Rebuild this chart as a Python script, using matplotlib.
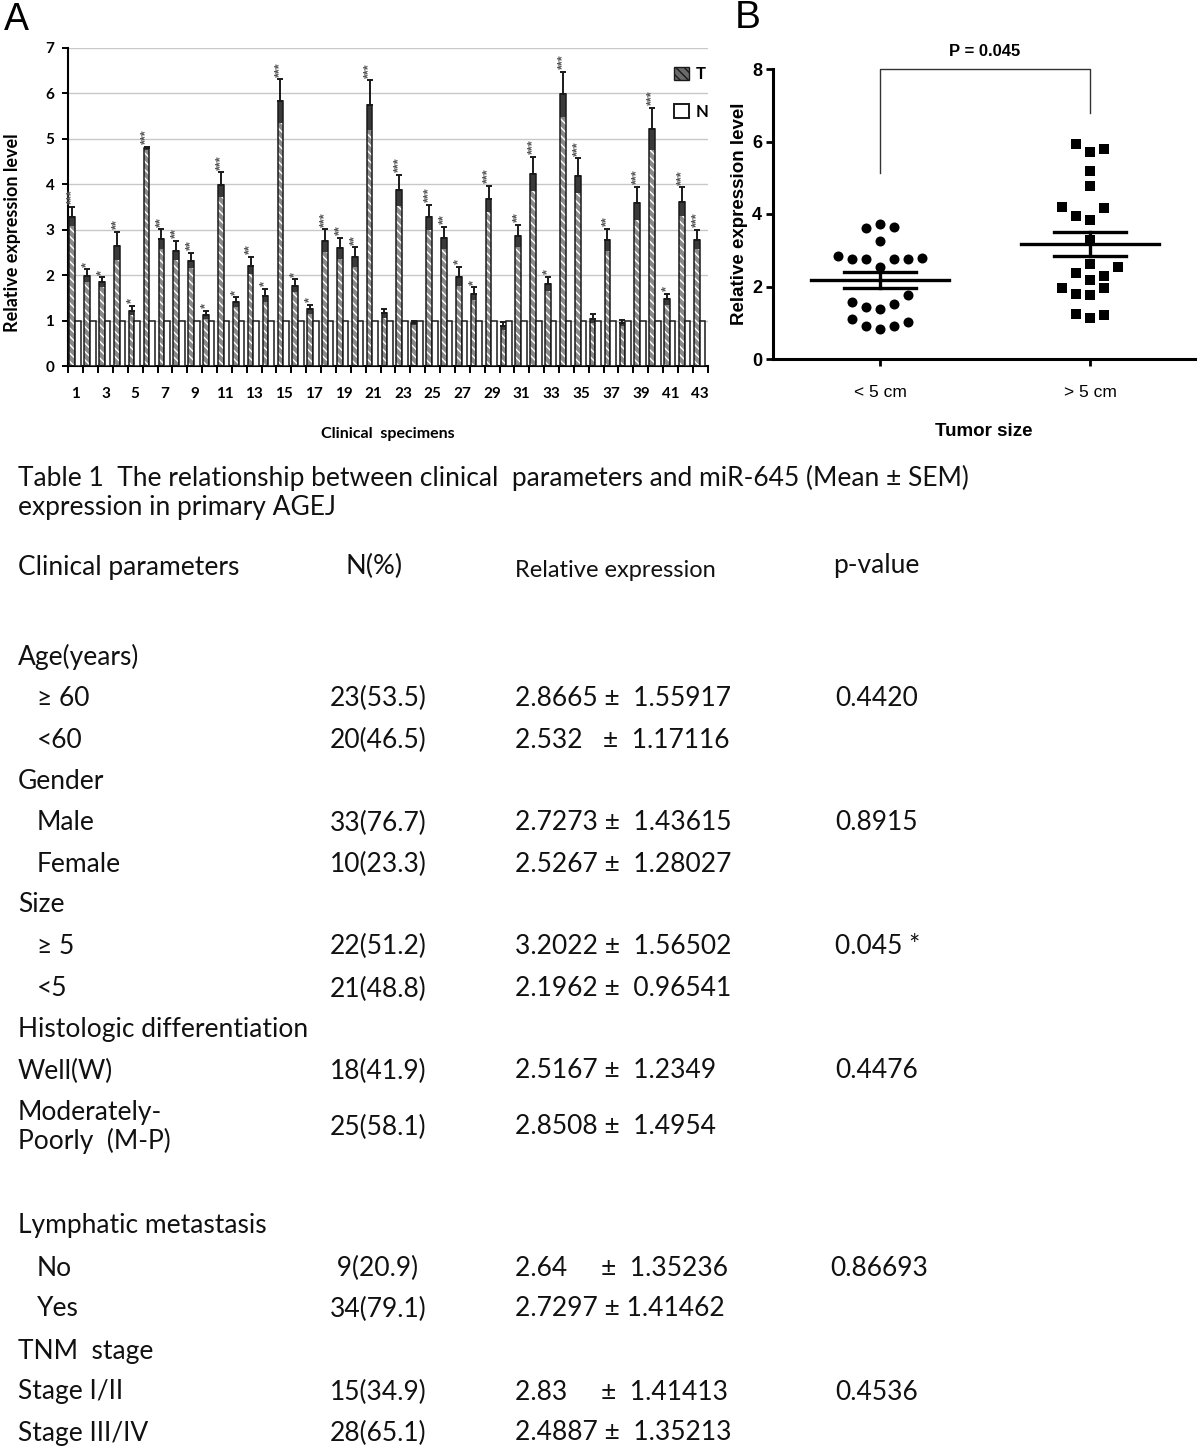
import matplotlib
matplotlib.use("Agg")
import matplotlib.pyplot as plt
import numpy as np
from matplotlib.patches import Patch

# ---------------- data ----------------
specimens = list(range(1, 44))
tumor = [3.29, 1.99, 1.84, 2.65, 1.22, 4.79, 2.79, 2.54, 2.32, 1.12,
         3.99, 1.40, 2.21, 1.55, 5.83, 1.77, 1.25, 2.76, 2.59, 2.40,
         5.74, 1.16, 3.87, 0.95, 3.27, 2.82, 1.97, 1.59, 3.68, 0.88,
         2.87, 4.23, 1.80, 5.98, 4.19, 1.04, 2.78, 0.94, 3.58, 5.22,
         1.47, 3.62, 2.78]
tumor_err = [0.21, 0.14, 0.11, 0.31, 0.10, 0.03, 0.22, 0.21, 0.17, 0.09,
             0.27, 0.11, 0.19, 0.14, 0.48, 0.14, 0.10, 0.25, 0.23, 0.21,
             0.55, 0.10, 0.34, 0.05, 0.28, 0.25, 0.21, 0.14, 0.29, 0.09,
             0.24, 0.37, 0.16, 0.49, 0.38, 0.10, 0.24, 0.07, 0.36, 0.47,
             0.12, 0.31, 0.21]
normal = [1.0] * 43
signif = ["***", "*", "*", "**", "*", "***", "**", "**", "**", "*",
          "***", "*", "**", "*", "***", "*", "*", "***", "**", "**",
          "***", "", "***", "", "***", "**", "*", "*", "***", "",
          "**", "***", "*", "***", "***", "", "**", "", "***", "***",
          "*", "***", "***"]

size_groups = ["< 5 cm", "> 5 cm"]
small_vals = [3.62, 3.73, 3.63, 3.25, 2.85, 2.77, 2.77, 2.77, 2.77, 2.80,
              2.53, 1.76, 1.56, 1.43, 1.38, 1.52, 1.10, 0.92, 0.84, 0.92, 1.01]
small_cols = [-1, 0, 1, 0, -3, -2, -1, 1, 2, 3,
              0, 2, -2, -1, 0, 1, -2, -1, 0, 1, 2]
large_vals = [5.93, 5.71, 5.80, 5.20, 4.76, 4.19, 3.95, 3.84, 4.16, 3.29,
              2.63, 2.55, 2.37, 2.30, 2.17, 1.97, 1.80, 1.76, 1.95,
              1.23, 1.12, 1.21]
large_cols = [-1, 0, 1, 0, 0, -2, -1, 0, 1, 0,
              0, 2, -1, 1, 0, -2, -1, 0, 1,
              -1, 0, 1]
p_text = "P = 0.045"

table_title = ["Table 1  The relationship between clinical  parameters and miR-645 (Mean \u00b1 SEM)",
               "expression in primary AGEJ"]
table_header = ["Clinical parameters", "N(%)", "Relative expression", "p-value"]
row_labels = ["Age(years)", "\u2265 60", "<60", "Gender", "Male", "Female", "Size",
              "\u2265 5", "<5", "Histologic differentiation", "Well(W)",
              "Moderately-\nPoorly  (M-P)", "Lymphatic metastasis", "No", "Yes",
              "TNM  stage", "Stage I/II", "Stage III/IV"]
row_n = ["", "23(53.5)", "20(46.5)", "", "33(76.7)", "10(23.3)", "",
         "22(51.2)", "21(48.8)", "", "18(41.9)", "25(58.1)", "",
         " 9(20.9)", "34(79.1)", "", "15(34.9)", "28(65.1)"]
row_expr = ["", "2.8665 \u00b1  1.55917", "2.532   \u00b1  1.17116", "",
            "2.7273 \u00b1  1.43615", "2.5267 \u00b1  1.28027", "",
            "3.2022 \u00b1  1.56502", "2.1962 \u00b1  0.96541", "",
            "2.5167 \u00b1  1.2349", "2.8508 \u00b1  1.4954", "",
            "2.64     \u00b1  1.35236", "2.7297 \u00b1 1.41462", "",
            "2.83     \u00b1  1.41413", "2.4887 \u00b1  1.35213"]
row_p = ["", "0.4420", "", "", "0.8915", "", "", "0.045 *", "", "",
         "0.4476", "", "", "0.86693", "", "", "0.4536", ""]
row_indent = [False, True, True, False, True, True, False, True, True, False,
              False, False, False, True, True, False, False, False]
row_y = [657, 698, 740, 781, 823, 864, 905, 946, 989, 1030, 1071, 1127,
         1226, 1268, 1309, 1351, 1392, 1433]

# ---------------- figure ----------------
W, H = 1200, 1448
fig = plt.figure(figsize=(W / 100, H / 100), dpi=100)
fig.patch.set_facecolor("white")

def px(x0, y0, x1, y1):
    return [x0 / W, 1 - y1 / H, (x1 - x0) / W, (y1 - y0) / H]

A_FONT = ["Lato", "DejaVu Sans"]
B_FONT = ["Liberation Sans", "DejaVu Sans"]

# ---------------- Panel A ----------------
axA = fig.add_axes(px(68.3, 48, 707.7, 366))
x = np.array(specimens, dtype=float)
wT, wN = 0.38, 0.38
xT = x - 0.24
xN = x + 0.14
axA.set_axisbelow(True)
axA.yaxis.grid(True, color="#c8c8c8", lw=1.0)
axA.bar(xT, tumor, width=wT, color="#8a8a8a", edgecolor="white",
        hatch="\\\\\\\\", lw=0, zorder=2)
axA.bar(xT, tumor_err, bottom=np.array(tumor) - np.array(tumor_err), width=wT,
        color="#3a3a3a", edgecolor="#3a3a3a", lw=0, zorder=3)
axA.bar(xT, tumor, width=wT, fill=False, edgecolor="#1a1a1a", lw=1.1, zorder=4)
axA.bar(xN, normal, width=wN, color="white", edgecolor="#1a1a1a", lw=1.1, zorder=4)
axA.errorbar(xT, tumor, yerr=[np.zeros(43), tumor_err], fmt="none",
             ecolor="#1a1a1a", elinewidth=1.4, capsize=2.2, capthick=1.4, zorder=5)
for xi, t, e, s in zip(xT, tumor, tumor_err, signif):
    if s:
        axA.text(xi, t + e + 0.06, s, rotation=90, ha="center", va="bottom",
                 fontsize=9, color="#555555", family=B_FONT,
                 fontweight="bold")
axA.set_xlim(0.5, 43.5)
axA.set_ylim(0, 7)
axA.set_yticks(range(0, 8))
axA.set_xticks(specimens[::2])
axA.set_xticklabels([str(s) for s in specimens[::2]])
axA.set_xticks(np.arange(0.5, 44, 1.0), minor=True)
axA.tick_params(axis="x", which="major", length=0, pad=15)
axA.tick_params(axis="x", which="minor", length=5, width=1.4, direction="out")
axA.tick_params(axis="y", length=4, width=1.4, direction="out", pad=6)
for lab in axA.get_xticklabels() + axA.get_yticklabels():
    lab.set_fontfamily(A_FONT)
    lab.set_fontweight("bold")
    lab.set_fontsize(11)
for sp in ["top", "right"]:
    axA.spines[sp].set_visible(False)
for sp in ["left", "bottom"]:
    axA.spines[sp].set_linewidth(1.5)
axA.set_ylabel("Relative expression level", fontsize=13, fontweight="bold",
               family=A_FONT)
axA.yaxis.set_label_coords(-0.074, 0.42)
axA.set_xlabel("Clinical  specimens", fontsize=11.5, fontweight="bold",
               family=A_FONT, labelpad=19)
handles = [Patch(facecolor="#6a6a6a", edgecolor="#1a1a1a", hatch="\\\\\\\\"),
           Patch(facecolor="white", edgecolor="#1a1a1a", lw=1.4)]
axA.legend(handles, ["T", "N"], loc="upper right", bbox_to_anchor=(1.025, 0.99),
           frameon=False, handlelength=0.9, handleheight=0.9, handletextpad=0.4,
           labelspacing=1.3, prop={"family": A_FONT, "weight": "bold", "size": 12})
fig.text(4 / W, 1 - 2 / H, "A", fontsize=27, va="top", ha="left", family=B_FONT)

# ---------------- Panel B ----------------
axB = fig.add_axes(px(773, 69, 1195, 359))
step = 0.0667
for gi, (vals, cols, mk) in enumerate([(small_vals, small_cols, "o"),
                                       (large_vals, large_cols, "s")]):
    xs = gi + np.array(cols) * step
    axB.scatter(xs, vals, marker=mk, s=52, color="black", zorder=3, lw=0)
    v = np.array(vals)
    m = v.mean()
    sem = v.std(ddof=1) / np.sqrt(len(v))
    axB.plot([gi - 0.33, gi + 0.33], [m, m], color="black", lw=2.4, zorder=4)
    axB.plot([gi - 0.17, gi + 0.17], [m + sem, m + sem], color="black", lw=2.4, zorder=4)
    axB.plot([gi - 0.17, gi + 0.17], [m - sem, m - sem], color="black", lw=2.4, zorder=4)
    axB.plot([gi, gi], [m - sem, m + sem], color="black", lw=2.4, zorder=4)
axB.plot([0, 0, 1, 1], [5.14, 8.0, 8.0, 6.78], color="#333333", lw=1.0, clip_on=False)
axB.text(0.5, 8.28, p_text, ha="center", va="bottom", fontsize=12,
         fontweight="bold", family=B_FONT)
axB.set_xlim(-0.51, 1.50)
axB.set_ylim(0, 8)
axB.set_yticks([0, 2, 4, 6, 8])
axB.set_xticks([0, 1])
axB.set_xticklabels(size_groups)
for sp in ["top", "right"]:
    axB.spines[sp].set_visible(False)
for sp in ["left", "bottom"]:
    axB.spines[sp].set_linewidth(2.2)
axB.tick_params(axis="y", length=5, width=2.0, pad=3)
axB.tick_params(axis="x", length=5, width=2.0, pad=14)
for lab in axB.get_yticklabels():
    lab.set_fontfamily(B_FONT); lab.set_fontweight("bold"); lab.set_fontsize(13)
for lab in axB.get_xticklabels():
    lab.set_fontfamily(B_FONT); lab.set_fontsize(12.5)
axB.set_ylabel("Relative expression level", fontsize=13.5, fontweight="bold",
               family=B_FONT, labelpad=3)
axB.set_xlabel("Tumor size", fontsize=13.5, fontweight="bold", family=B_FONT,
               labelpad=16)
fig.text(735 / W, 1 - 0 / H, "B", fontsize=28, va="top", ha="left", family=B_FONT)

# ---------------- Table ----------------
T_FONT = ["Lato", "DejaVu Sans"]
def ftext(xp, yp, s, size=19, **kw):
    fig.text(xp / W, 1 - yp / H, s, fontsize=size, family=T_FONT,
             va="center", ha="left", color="#111111", **kw)

ftext(18, 478, table_title[0], size=19)
ftext(18, 507, table_title[1], size=19)
ftext(18, 568, table_header[0])
ftext(345, 566, table_header[1], size=19.5)
ftext(515, 570, table_header[2], size=17)
ftext(833, 566, table_header[3])
for lab, n, ex, p, ind, yy in zip(row_labels, row_n, row_expr, row_p,
                                   row_indent, row_y):
    ftext(37 if ind else 18, yy, lab, linespacing=1.15)
    if n:
        ftext(330, yy, n)
    if ex:
        ftext(515, yy, ex)
    if p:
        ftext(835 if p != "0.86693" else 830, yy, p)

fig.savefig("out.png", dpi=100, facecolor="white")
